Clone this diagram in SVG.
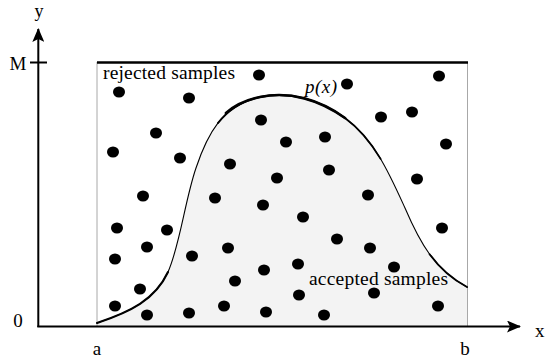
<svg xmlns="http://www.w3.org/2000/svg" width="546" height="360" viewBox="0 0 546 360">
<style>
.t{font-family:"Liberation Serif","Times New Roman",serif;font-size:19px;fill:#000}
.big{font-size:19.5px}
.it{font-style:italic}
.dot{fill:#000}
.edge{stroke:#a8a8a8;stroke-width:1;fill:none}
.curve{stroke:#000;fill:none;stroke-linecap:round}
</style>
<defs>
<marker id="arr" viewBox="0 0 14 12" refX="13" refY="6" markerWidth="14" markerHeight="12" markerUnits="userSpaceOnUse" orient="auto">
<path d="M0,0 L14,6 L0,12 L3,6 Z" fill="#000"/>
</marker>
</defs>
<rect width="546" height="360" fill="#fff"/>
<g id="region">
<path d="M97,323 C130,312 155,300 168,272 C180,245 185,200 196,168 C207,135 222,105 260,97 C290,90.7 320,100 345,118 C375,140 390,175 405,208 C420,243 435,270 467,287 L467,326 L97,326 Z" fill="#f3f3f3"/>
<line class="edge" x1="97" y1="62" x2="97" y2="326"/>
<line class="edge" x1="467.5" y1="62" x2="467.5" y2="326"/>
<line x1="97" y1="62.5" x2="468" y2="62.5" stroke="#000" stroke-width="2.6"/>
</g>
<g id="curve">
<path class="curve" stroke-width="1.1" d="M97,323 C130,312 155,300 168,272 C180,245 185,200 196,168 C207,135 222,105 260,97 C290,90.7 320,100 345,118 C375,140 390,175 405,208 C420,243 435,270 467,287"/>
<path class="curve" stroke-width="2.1" d="M97,323 C130,312 155,300 168,272"/>
<path class="curve" stroke-width="1.8" d="M217.9,123.1 C227.75,110.5 241,101 260,97 C290,90.7 320,100 345,118 C360,129 371.25,143.25 380.6,158.9"/>
<path class="curve" stroke-width="2.7" d="M226,113 C236,104 246,100 260,97 C290,90.7 320,100 345,118"/>
<path class="curve" stroke-width="1.9" d="M429.6,254.25 C439.25,267.5 451,278.5 467,287"/>
</g>
<g id="axes">
<line x1="38.3" y1="327" x2="38.3" y2="29" stroke="#000" stroke-width="2" marker-end="url(#arr)"/>
<line x1="37.3" y1="326.5" x2="520" y2="326.5" stroke="#000" stroke-width="2" marker-end="url(#arr)"/>
<line x1="30" y1="62.5" x2="47" y2="62.5" stroke="#000" stroke-width="2"/>
</g>
<g id="samples">
<ellipse class="dot" cx="259" cy="75" rx="6" ry="5.5"/>
<ellipse class="dot" cx="347" cy="84" rx="6" ry="5.5"/>
<ellipse class="dot" cx="439" cy="76" rx="6" ry="5.5"/>
<ellipse class="dot" cx="119" cy="92" rx="6" ry="5.5"/>
<ellipse class="dot" cx="189" cy="98" rx="6" ry="5.5"/>
<ellipse class="dot" cx="261" cy="120" rx="6" ry="5.5"/>
<ellipse class="dot" cx="381" cy="117" rx="6" ry="5.5"/>
<ellipse class="dot" cx="412" cy="112" rx="6" ry="5.5"/>
<ellipse class="dot" cx="156" cy="133" rx="6" ry="5.5"/>
<ellipse class="dot" cx="113" cy="152" rx="6" ry="5.5"/>
<ellipse class="dot" cx="180" cy="158" rx="6" ry="5.5"/>
<ellipse class="dot" cx="446" cy="144" rx="6" ry="5.5"/>
<ellipse class="dot" cx="230" cy="164" rx="6" ry="5.5"/>
<ellipse class="dot" cx="286" cy="142" rx="6" ry="5.5"/>
<ellipse class="dot" cx="325" cy="137" rx="6" ry="5.5"/>
<ellipse class="dot" cx="329" cy="170" rx="6" ry="5.5"/>
<ellipse class="dot" cx="417" cy="179" rx="6" ry="5.5"/>
<ellipse class="dot" cx="277" cy="178" rx="6" ry="5.5"/>
<ellipse class="dot" cx="143" cy="196" rx="6" ry="5.5"/>
<ellipse class="dot" cx="215" cy="198" rx="6" ry="5.5"/>
<ellipse class="dot" cx="263" cy="205" rx="6" ry="5.5"/>
<ellipse class="dot" cx="368" cy="195" rx="6" ry="5.5"/>
<ellipse class="dot" cx="303" cy="217" rx="6" ry="5.5"/>
<ellipse class="dot" cx="117" cy="228" rx="6" ry="5.5"/>
<ellipse class="dot" cx="167" cy="230" rx="6" ry="5.5"/>
<ellipse class="dot" cx="442" cy="228" rx="6" ry="5.5"/>
<ellipse class="dot" cx="147" cy="247" rx="6" ry="5.5"/>
<ellipse class="dot" cx="192" cy="256" rx="6" ry="5.5"/>
<ellipse class="dot" cx="228" cy="248" rx="6" ry="5.5"/>
<ellipse class="dot" cx="337" cy="239" rx="6" ry="5.5"/>
<ellipse class="dot" cx="370" cy="248" rx="6" ry="5.5"/>
<ellipse class="dot" cx="115" cy="259" rx="6" ry="5.5"/>
<ellipse class="dot" cx="298" cy="264" rx="6" ry="5.5"/>
<ellipse class="dot" cx="264" cy="270" rx="6" ry="5.5"/>
<ellipse class="dot" cx="235" cy="281" rx="6" ry="5.5"/>
<ellipse class="dot" cx="394" cy="267" rx="6" ry="5.5"/>
<ellipse class="dot" cx="140" cy="289" rx="6" ry="5.5"/>
<ellipse class="dot" cx="115" cy="306" rx="6" ry="5.5"/>
<ellipse class="dot" cx="147" cy="315" rx="6" ry="5.5"/>
<ellipse class="dot" cx="189" cy="313" rx="6" ry="5.5"/>
<ellipse class="dot" cx="224" cy="306" rx="6" ry="5.5"/>
<ellipse class="dot" cx="266" cy="312" rx="6" ry="5.5"/>
<ellipse class="dot" cx="299" cy="295" rx="6" ry="5.5"/>
<ellipse class="dot" cx="324" cy="315" rx="6" ry="5.5"/>
<ellipse class="dot" cx="374" cy="293" rx="6" ry="5.5"/>
<ellipse class="dot" cx="438" cy="306" rx="6" ry="5.5"/>
</g>
<g id="labels">
<text class="t big" x="103" y="79" textLength="132" lengthAdjust="spacing">rejected samples</text>
<text class="t big" x="309" y="285" textLength="139" lengthAdjust="spacing">accepted samples</text>
<text class="t it" x="305" y="93" textLength="32" lengthAdjust="spacing">p(x)</text>
<text class="t" x="39" y="17" text-anchor="middle" style="font-size:18px">y</text>
<text class="t" x="18" y="70" text-anchor="middle">M</text>
<text class="t" x="18" y="327" text-anchor="middle">0</text>
<text class="t" x="97" y="355" text-anchor="middle">a</text>
<text class="t" x="465" y="355" text-anchor="middle">b</text>
<text class="t" x="535" y="337">x</text>
</g>
</svg>
